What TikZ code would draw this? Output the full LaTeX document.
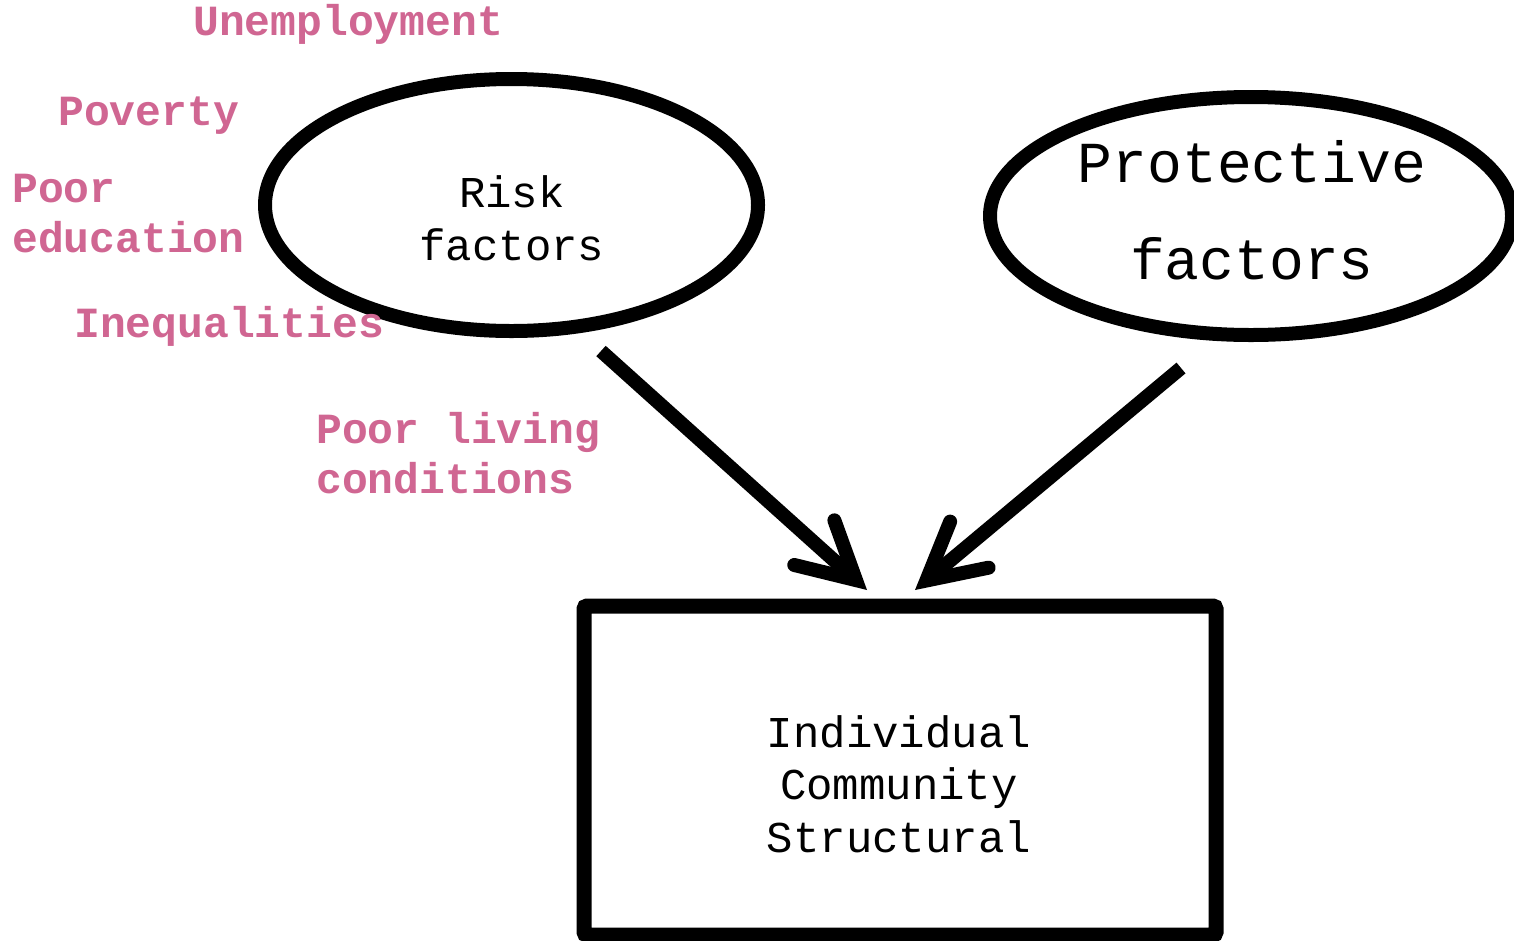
\documentclass[tikz,border=0pt]{standalone}
\usepackage{fontspec}
\setmonofont{Liberation Mono}
\usetikzlibrary{shapes.geometric,arrows.meta}
\definecolor{riskpink}{RGB}{208,102,146}
\tikzset{
  factor/.style={font=\ttfamily\bfseries\fontsize{43}{50}\selectfont, text=riskpink, anchor=base west, inner sep=0pt, align=left},
  bubble/.style={draw, ellipse, line width=14pt, inner sep=0pt},
  label/.style={font=\ttfamily\fontsize{44}{52.5}\selectfont, inner sep=0pt, align=center, anchor=base},
  biglabel/.style={font=\ttfamily\fontsize{58}{97}\selectfont, inner sep=0pt, align=center, anchor=base},
  outcome/.style={draw, rectangle, line width=15pt, rounded corners=3pt, inner sep=0pt},
  bigarrow/.style={line width=14pt, -{Straight Barb[length=56pt,width=60pt,line cap=round,line join=miter]}}
}
\begin{document}
\begin{tikzpicture}[x=1pt,y=-1pt]
\useasboundingbox (0,0) rectangle (1514,940);
\fill[white] (0,0) rectangle (1514,940);
% bubbles
\node[bubble, minimum width=493pt, minimum height=252pt] (risk) at (511.5,205) {};
\node[bubble, minimum width=522pt, minimum height=238pt] (prot) at (1251,216) {};
\node[label] (risktext) at (512,260) {Risk\\factors};
\node[biglabel] (prottext) at (1252,279) {Protective\\factors};
% outcome box
\node[outcome, minimum width=632pt, minimum height=329pt] (box) at (900,770.5) {};
\node[label] (boxtext) at (899,852) {Individual\\Community\\Structural};
% risk factor labels
\node[factor] (unemp) at (193,35) {Unemployment};
\node[factor] (pov) at (58,125) {Poverty};
\node[factor] (edu) at (12,252) {Poor\\education};
\node[factor] (ineq) at (74,337) {Inequalities};
\node[factor] (living) at (316,493) {Poor living\\conditions};
% arrows
\coordinate (a1s) at (601,351);
\coordinate (a1e) at (867,590);
\coordinate (a2s) at (1181,368);
\coordinate (a2e) at (915,590);
\draw[bigarrow] (a1s) -- (a1e);
\draw[bigarrow] (a2s) -- (a2e);
\end{tikzpicture}
\end{document}
